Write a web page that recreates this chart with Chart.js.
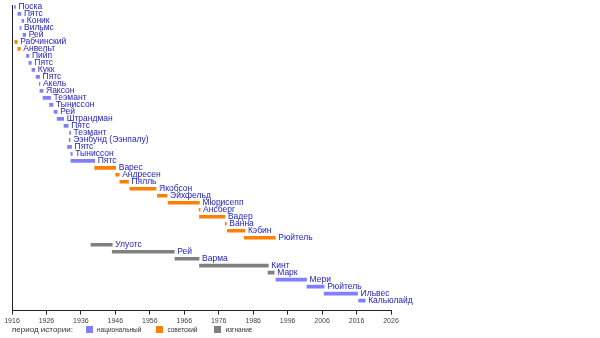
<!DOCTYPE html>
<html>
<head>
<meta charset="utf-8">
<script src="https://cdn.jsdelivr.net/npm/chart.js@4/dist/chart.umd.min.js"></script>
<style>
  body { margin: 0; background: #fff; }
  #wrap { position: relative; width: 600px; height: 338px; }
  #legend {
    position: absolute; left: 12px; top: 323px; height: 12px;
    font-family: "Liberation Sans", Arial, sans-serif; color: #333;
    display: flex; align-items: center; white-space: nowrap;
  }
  #legend .title { font-size: 8px; margin-right: 13px; }
  #legend .sw { width: 7px; height: 7px; display: inline-block; margin-right: 4px; }
  #legend .item { font-size: 6.5px; margin-right: 15px; }
</style>
</head>
<body>
<div id="wrap">
  <canvas id="timeline" width="600" height="338"></canvas>
  <div id="legend">
    <span class="title">период истории:</span>
    <span class="sw" style="background:#8080ff"></span><span class="item">национальный</span>
    <span class="sw" style="background:#ff8000"></span><span class="item" style="margin-right:17px">советский</span>
    <span class="sw" style="background:#808080"></span><span class="item">изгнание</span>
  </div>
</div>
<script>
  // Heads of Estonia, one row each, top to bottom
  const names = [
    "Поска", "Пятс", "Коник", "Вильмс", "Рей", "Рабчинский", "Анвельт", "Пийп",
    "Пятс", "Кукк", "Пятс", "Акель", "Яаксон", "Теэмант", "Тыниссон", "Рей",
    "Штрандман", "Пятс", "Теэмант", "Ээнбунд (Ээнпалу)", "Пятс", "Тыниссон", "Пятс",
    "Варес", "Андресен", "Пялль", "Якобсон", "Эйхфельд", "Мюрисепп", "Ансберг",
    "Вадер", "Ванна", "Кэбин", "Рюйтель",
    "Улуотс", "Рей", "Варма", "Кинт", "Марк",
    "Мери", "Рюйтель", "Ильвес", "Кальюлайд"
  ];
  // n = national, s = soviet, e = exile
  const periods = [
    "n", "n", "n", "n", "n", "s", "s", "n",
    "n", "n", "n", "n", "n", "n", "n", "n",
    "n", "n", "n", "n", "n", "n", "n",
    "s", "s", "s", "s", "s", "s", "s",
    "s", "s", "s", "s",
    "e", "e", "e", "e", "e",
    "n", "n", "n", "n"
  ];
  const starts = [
    1916.7, 1917.7, 1918.9, 1918.3, 1919.2, 1916.8, 1917.7, 1920.2,
    1920.9, 1921.8, 1923.0, 1923.9, 1924.1, 1925.0, 1926.9, 1928.2,
    1929.1, 1931.1, 1932.7, 1932.6, 1932.1, 1933.1, 1933.1,
    1940.0, 1946.1, 1947.3, 1950.2, 1958.2, 1961.3, 1970.3,
    1970.4, 1977.9, 1978.5, 1983.4,
    1938.9, 1945.1, 1963.3, 1970.4, 1990.3,
    1992.6, 2001.6, 2006.6, 2016.6
  ];
  const ends = [
    1917.0, 1918.6, 1919.4, 1918.6, 1920.0, 1917.5, 1918.4, 1920.9,
    1921.6, 1922.6, 1924.0, 1924.1, 1925.0, 1927.2, 1927.9, 1929.1,
    1931.0, 1932.3, 1933.0, 1932.9, 1933.3, 1933.5, 1940.0,
    1946.1, 1947.1, 1949.8, 1957.8, 1961.0, 1970.4, 1970.6,
    1977.8, 1978.2, 1983.6, 1992.4,
    1945.1, 1963.1, 1970.3, 1990.4, 1992.1,
    2001.5, 2006.6, 2016.3, 2018.5
  ];
  const yearTicks = [1916, 1926, 1936, 1946, 1956, 1966, 1976, 1986, 1996, 2006, 2016, 2026];

  const periodColors = { n: "#8080ff", s: "#ff8000", e: "#808080" };

  const rows = names.map((name, i) => ({ x: [starts[i], ends[i]], y: i }));

  // puts each name just right of its bar
  const nameLabels = {
    id: "nameLabels",
    afterDatasetsDraw(chart) {
      const ctx = chart.ctx;
      const meta = chart.getDatasetMeta(0);
      ctx.save();
      ctx.font = "8.5px 'Liberation Sans', Arial, sans-serif";
      ctx.fillStyle = "#1c1cc0";
      ctx.textBaseline = "middle";
      meta.data.forEach((bar, i) => {
        ctx.fillText(names[i], bar.x + 3, bar.y);
      });
      ctx.restore();
    }
  };

  const ctx = document.getElementById("timeline").getContext("2d");
  new Chart(ctx, {
    type: "bar",
    data: {
      datasets: [
        {
          data: rows,
          backgroundColor: periods.map((p) => periodColors[p]),
          barThickness: 3,
          borderSkipped: false,
        },
      ],
    },
    options: {
      indexAxis: "y",
      responsive: false,
      animation: false,
      layout: { padding: { left: 12, right: 209, top: 5, bottom: 11 } },
      plugins: { legend: { display: false }, tooltip: { enabled: false } },
      scales: {
        x: {
          type: "linear",
          min: 1916,
          max: 2026,
          afterBuildTicks: (axis) => {
            axis.ticks = yearTicks.map((v) => ({ value: v }));
          },
          ticks: {
            color: "#444",
            font: { size: 7, family: "'Liberation Sans', Arial, sans-serif" },
            padding: 2,
            maxRotation: 0,
            callback: (v) => String(v),
          },
          grid: { drawOnChartArea: false, tickLength: 4, color: "#222" },
          border: { color: "#222", width: 1 },
        },
        y: {
          type: "linear",
          reverse: true,
          offset: false,
          min: -0.28,
          max: 43.42,
          afterFit: (axis) => { axis.width = 0; },
          ticks: { display: false },
          grid: { display: false },
          border: { color: "#222", width: 1 },
        },
      },
    },
    plugins: [nameLabels],
  });
</script>
</body>
</html>
